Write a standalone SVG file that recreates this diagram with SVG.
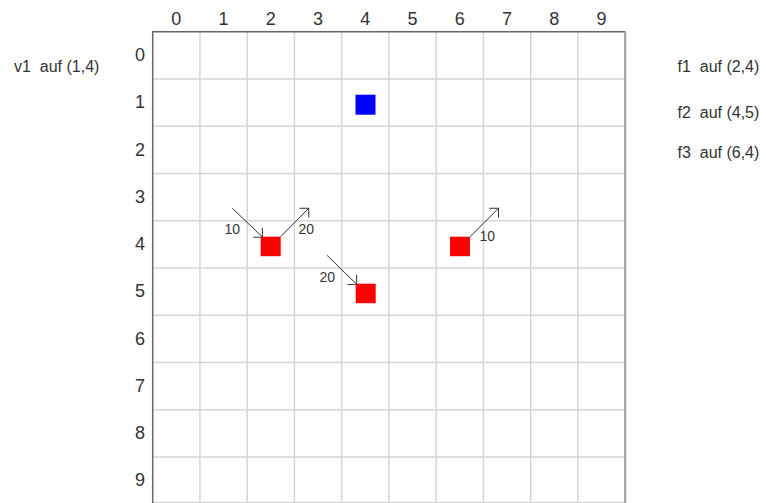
<svg xmlns="http://www.w3.org/2000/svg" width="766" height="503" viewBox="0 0 766 503">
<style>
.grid{stroke:#d6d6d6;stroke-width:1.5;fill:none}
.axis{font-family:"Liberation Sans",Arial,sans-serif;font-size:18px;fill:#333;text-anchor:middle}
.lbl{font-family:"Liberation Sans",Arial,sans-serif;font-size:14px;fill:#333}
.note{font-family:"Liberation Sans",Arial,sans-serif;font-size:16px;fill:#333;white-space:pre}
.arr{stroke:#333;stroke-width:1;fill:none;marker-end:url(#ah)}
.red{fill:#ff0000}
.blue{fill:#0000ff}
</style>
<defs>
<marker id="ah" markerUnits="userSpaceOnUse" viewBox="-8 -8 9 16" refX="0" refY="0" markerWidth="9" markerHeight="16" orient="auto" overflow="visible">
<path d="M-6.5,-6.5 L0,0 L-6.5,6.5" fill="none" stroke="#333" stroke-width="1"/>
</marker>
</defs>
<rect width="766" height="503" fill="#fff"/>
<g id="grid">
<path class="grid" d="M199.95,31.7V503M247.2,31.7V503M294.45,31.7V503M341.7,31.7V503M388.95,31.7V503M436.2,31.7V503M483.45,31.7V503M530.7,31.7V503M577.95,31.7V503"/>
<path class="grid" d="M152.7,78.95H625.2M152.7,126.2H625.2M152.7,173.45H625.2M152.7,220.7H625.2M152.7,267.95H625.2M152.7,315.2H625.2M152.7,362.45H625.2M152.7,409.7H625.2M152.7,456.95H625.2M152.7,502.5H625.2"/>
<path d="M152.7,503V31.7H625.2" stroke="#666" stroke-width="1.5" fill="none"/>
<path d="M625.2,31.7V503" stroke="#999" stroke-width="2" fill="none"/>
</g>
<g id="col-labels" class="axis">
<text x="176.3" y="25">0</text><text x="223.6" y="25">1</text><text x="270.8" y="25">2</text><text x="318.1" y="25">3</text><text x="365.3" y="25">4</text><text x="412.6" y="25">5</text><text x="459.8" y="25">6</text><text x="507.1" y="25">7</text><text x="554.3" y="25">8</text><text x="601.6" y="25">9</text>
</g>
<g id="row-labels" class="axis">
<text x="140" y="61">0</text><text x="140" y="108.3">1</text><text x="140" y="155.5">2</text><text x="140" y="202.8">3</text><text x="140" y="250">4</text><text x="140" y="297.3">5</text><text x="140" y="344.5">6</text><text x="140" y="391.8">7</text><text x="140" y="439">8</text><text x="140" y="486.3">9</text>
</g>
<g id="v1"><rect class="blue" x="355.5" y="94.7" width="20" height="20"/></g>
<g id="f1"><rect class="red" x="260.7" y="236.7" width="20" height="19.5"/></g>
<g id="f2"><rect class="red" x="355.7" y="283.7" width="20" height="19.5"/></g>
<g id="f3"><rect class="red" x="450" y="236.7" width="20" height="19.5"/></g>
<g id="connectors">
<path class="arr" d="M232.3,208.3L262.5,237"/>
<path class="arr" d="M280.7,236.7L308.7,208.3"/>
<path class="arr" d="M327,255.3L356.7,284.3"/>
<path class="arr" d="M470,236.7L498.5,208.3"/>
<text class="lbl" x="224.5" y="234">10</text>
<text class="lbl" x="298.5" y="234">20</text>
<text class="lbl" x="319.5" y="282">20</text>
<text class="lbl" x="479.5" y="241">10</text>
</g>
<g id="notes">
<text class="note" x="14" y="72">v1  auf (1,4)</text>
<text class="note" x="677.5" y="72">f1  auf (2,4)</text>
<text class="note" x="677.5" y="118">f2  auf (4,5)</text>
<text class="note" x="677.5" y="158">f3  auf (6,4)</text>
</g>
</svg>
